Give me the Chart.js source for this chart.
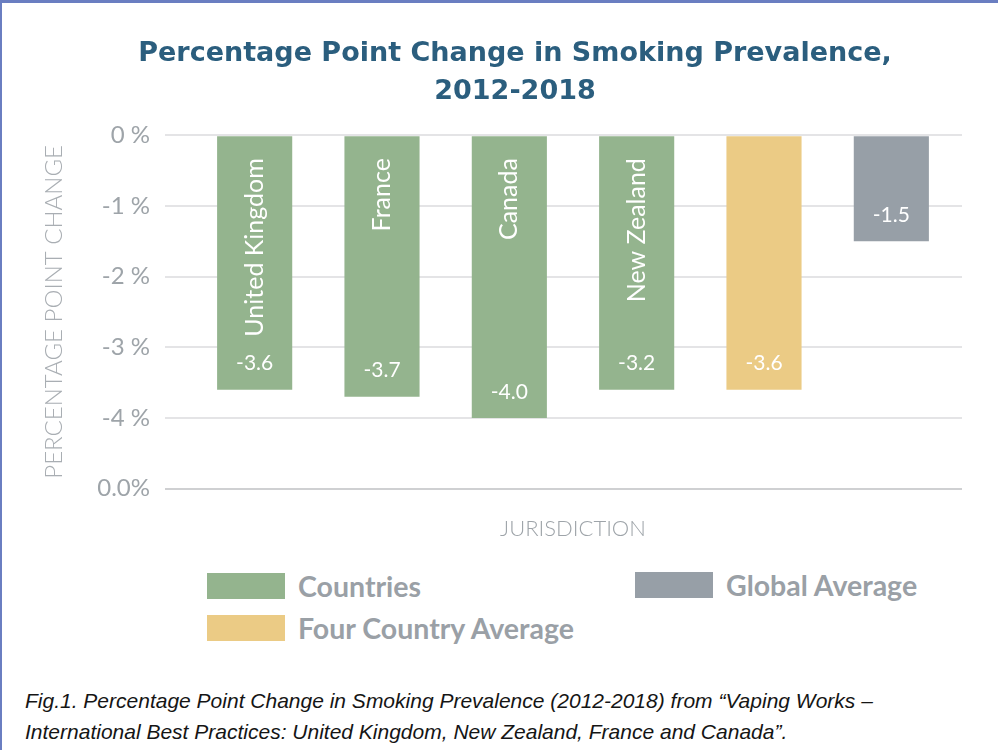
<!DOCTYPE html>
<html>
<head>
<meta charset="utf-8">
<title>Percentage Point Change in Smoking Prevalence</title>
<script src="https://cdn.jsdelivr.net/npm/chart.js@4.4.1/dist/chart.umd.min.js"></script>
<style>
  body { margin: 0; background: #fff; }
  #page { position: relative; width: 998px; height: 750px; overflow: hidden; background: #fff; }
  #chart { position: absolute; left: 0; top: 0; }
  .edge-top { position: absolute; left: 0; top: 0; width: 998px; height: 3px; background: #6a7ec1; }
  .edge-left { position: absolute; left: 0; top: 0; width: 2px; height: 750px; background: #6a7ec1; }
  .legend-item { position: absolute; display: flex; align-items: center; font-family: Lato, sans-serif; font-size: 28.5px; font-weight: 700; color: #9aa0a6; white-space: nowrap; }
  .swatch { width: 78px; height: 26px; margin-right: 13px; }
  #caption { position: absolute; left: 25px; top: 685px; font-family: "Liberation Sans", sans-serif; font-style: italic; font-size: 21px; line-height: 31px; color: #151515; }
</style>
</head>
<body>
<div id="page">
  <canvas id="chart" width="998" height="560"></canvas>
  <div id="legend"></div>
  <div id="caption">Fig.1. Percentage Point Change in Smoking Prevalence (2012-2018) from “Vaping Works –<br>International Best Practices: United Kingdom, New Zealand, France and Canada”.</div>
  <div class="edge-top"></div>
  <div class="edge-left"></div>
</div>
<script>
// data
const categories = ["United Kingdom", "France", "Canada", "New Zealand", "Four Country Average", "Global Average"];
const barNames = ["United Kingdom", "France", "Canada", "New Zealand", "", ""];
const changeValues = [-3.6, -3.7, -4.0, -3.6, -3.6, -1.5];
const valueLabels = ["-3.6", "-3.7", "-4.0", "-3.2", "-3.6", "-1.5"];
const groups = ["Countries", "Countries", "Countries", "Countries", "Four Country Average", "Global Average"];
const yTickLabels = ["0 %", "-1 %", "-2 %", "-3 %", "-4 %", "0.0%"];

const groupColors = {
  "Countries": "#94b48e",
  "Four Country Average": "#ebcb85",
  "Global Average": "#979fa7"
};

// legend, laid out like the original (two columns)
const legendSpots = [
  { name: "Countries", left: 207, top: 569 },
  { name: "Global Average", left: 635, top: 568 },
  { name: "Four Country Average", left: 207, top: 611 }
];
const legendBox = document.querySelector("#legend");
legendSpots.forEach(function (item) {
  const el = document.createElement("div");
  el.className = "legend-item";
  el.style.left = item.left + "px";
  el.style.top = item.top + "px";
  el.innerHTML = '<span class="swatch" style="background:' + groupColors[item.name] + '"></span>' + item.name;
  legendBox.appendChild(el);
});

const gridColor = c => (c.tick && c.tick.value === -5) ? "#cfd0d2" : "#e4e4e6";

const barText = {
  id: "barText",
  afterDatasetsDraw(chart) {
    const ctx = chart.ctx;
    const meta = chart.getDatasetMeta(0);
    ctx.save();
    ctx.fillStyle = "#ffffff";
    meta.data.forEach(function (bar, i) {
      const top = Math.min(bar.y, bar.base);
      const bottom = Math.max(bar.y, bar.base);
      if (barNames[i]) {
        ctx.save();
        ctx.translate(bar.x, top + 22);
        ctx.rotate(-Math.PI / 2);
        ctx.textAlign = "right";
        ctx.textBaseline = "middle";
        ctx.font = "25px Lato";
        ctx.fillText(barNames[i], 0, 0);
        ctx.restore();
      }
      ctx.textAlign = "center";
      ctx.textBaseline = "middle";
      ctx.font = "21px Lato";
      ctx.fillText(valueLabels[i], bar.x, bottom - 26);
    });
    ctx.restore();
  }
};

new Chart(document.querySelector("#chart"), {
  type: "bar",
  data: {
    labels: categories,
    datasets: [{
      data: changeValues,
      backgroundColor: groups.map(g => groupColors[g]),
      barPercentage: 0.59,
      categoryPercentage: 1
    }]
  },
  options: {
    responsive: false,
    animation: false,
    devicePixelRatio: 1,
    layout: { padding: { left: 32, right: 0, top: 0, bottom: 0 } },
    plugins: {
      legend: { display: false },
      tooltip: { enabled: false },
      title: {
        display: true,
        text: ["Percentage Point Change in Smoking Prevalence,", "2012-2018"],
        color: "#2b5e7e",
        font: { family: "DejaVu Sans", size: 27, weight: "bold", lineHeight: 1.41 },
        padding: { top: 35, bottom: 24 }
      }
    },
    scales: {
      x: {
        ticks: { display: false },
        grid: { display: false, drawTicks: false },
        border: { display: false },
        title: {
          display: true,
          text: "JURISDICTION",
          color: "#9ea4a9",
          font: { family: "Lato", size: 22, weight: 300 },
          padding: { top: 27, bottom: 18 }
        }
      },
      y: {
        min: -5,
        max: 0,
        ticks: {
          stepSize: 1,
          padding: 15,
          color: "#9ea4a9",
          font: { family: "Lato", size: 24 },
          callback: v => yTickLabels[Math.round(-v)]
        },
        grid: {
          color: gridColor,
          tickColor: gridColor,
          lineWidth: 2,
          tickLength: 26
        },
        border: { display: false },
        title: {
          display: true,
          text: "PERCENTAGE POINT CHANGE",
          color: "#a9aeb3",
          font: { family: "Lato", size: 24, weight: 300 },
          padding: { top: 8, bottom: 0 }
        },
        afterFit(scale) { scale.width = 159; }
      },
      yRight: {
        position: "right",
        min: -5,
        max: 0,
        ticks: { display: false, stepSize: 1 },
        grid: { drawOnChartArea: false, color: gridColor, tickColor: gridColor, lineWidth: 2, tickLength: 7 },
        border: { display: false },
        afterFit(scale) { scale.width = 43; }
      }
    }
  },
  plugins: [barText]
});
</script>
</body>
</html>
